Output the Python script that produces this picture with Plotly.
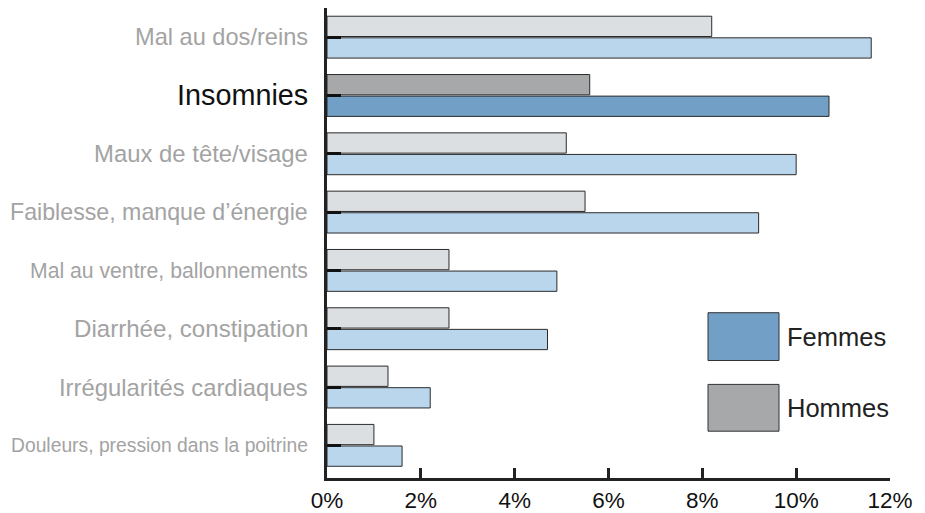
import plotly.graph_objects as go

categories = ["Mal au dos/reins", "Insomnies", "Maux de tête/visage",
              "Faiblesse, manque d’énergie", "Mal au ventre, ballonnements",
              "Diarrhée, constipation", "Irrégularités cardiaques",
              "Douleurs, pression dans la poitrine"]
hommes = [8.2, 5.6, 5.1, 5.5, 2.6, 2.6, 1.3, 1.0]
femmes = [11.6, 10.7, 10.0, 9.2, 4.9, 4.7, 2.2, 1.6]
highlight = "Insomnies"
label_sizes = [23.6, 28.8, 23.9, 23.2, 21.2, 24.1, 23.8, 19.3]
x_ticks = [0, 2, 4, 6, 8, 10, 12]
x_labels = ["0%", "2%", "4%", "6%", "8%", "10%", "12%"]

H_LIGHT, H_DARK = "#dcdfe2", "#a7a8aa"
F_LIGHT, F_DARK = "#bad6ed", "#729fc6"
EDGE = "#2b2b2b"

hcol = [H_DARK if c == highlight else H_LIGHT for c in categories]
fcol = [F_DARK if c == highlight else F_LIGHT for c in categories]

fig = go.Figure()
fig.add_trace(go.Bar(y=categories, x=hommes, orientation="h", name="Hommes",
                     marker=dict(color=hcol, line=dict(color=EDGE, width=1))))
fig.add_trace(go.Bar(y=categories, x=femmes, orientation="h", name="Femmes",
                     marker=dict(color=fcol, line=dict(color=EDGE, width=1))))

FONT = "Liberation Sans, Arial, sans-serif"
annotations = []
for c, s in zip(categories, label_sizes):
    hl = c == highlight
    annotations.append(dict(
        x=0, xref="paper", y=c, yref="y", xanchor="right", yanchor="middle",
        xshift=-17, text=c, showarrow=False,
        font=dict(family=FONT, size=s,
                  color="#111111" if hl else "#a3a3a3")))

# page body has an 8px margin
OFF = 8
W, Hh = 917, 505
L, R, T, B = 319, 35, 0, 33
pw, ph = W - L - R, Hh - T - B
def px(xp):
    return (xp - OFF - L) / pw
def py(yp):
    return 1 - (yp - OFF - T) / ph

shapes = []
for (y0, y1, col, label) in [(314, 362, F_DARK, "Femmes"), (386, 433, H_DARK, "Hommes")]:
    shapes.append(dict(type="rect", xref="paper", yref="paper",
                       x0=px(708), x1=px(779), y0=py(y1), y1=py(y0),
                       fillcolor=col, line=dict(color="#333333", width=1)))
    annotations.append(dict(x=px(785), y=py((y0 + y1) / 2), xref="paper", yref="paper",
                            xanchor="left", yanchor="middle", text=label, showarrow=False,
                            font=dict(family=FONT, size=25.5, color="#222222")))

fig.update_layout(
    width=W, height=Hh,
    margin=dict(l=L, r=R, t=T, b=B),
    barmode="group", bargap=0.26, bargroupgap=0.06,
    plot_bgcolor="white", paper_bgcolor="white",
    showlegend=False,
    annotations=annotations, shapes=shapes,
    font=dict(family=FONT, color="#111111"),
)
fig.update_xaxes(range=[0, 12], tickvals=x_ticks, ticktext=x_labels,
                 showgrid=False, zeroline=False, showline=True,
                 linecolor="#222222", linewidth=2.5,
                 ticks="inside", ticklen=10, tickwidth=2.5, tickcolor="#222222",
                 tickfont=dict(family=FONT, size=22.5, color="#111111"))
fig.update_yaxes(categoryorder="array", categoryarray=categories,
                 range=[7.56, -0.5], showgrid=False, zeroline=False,
                 showline=True, linecolor="#222222", linewidth=2.5,
                 ticks="inside", ticklen=14, tickwidth=2.5, tickcolor="#111111",
                 showticklabels=False)

fig.write_html("out.html")
